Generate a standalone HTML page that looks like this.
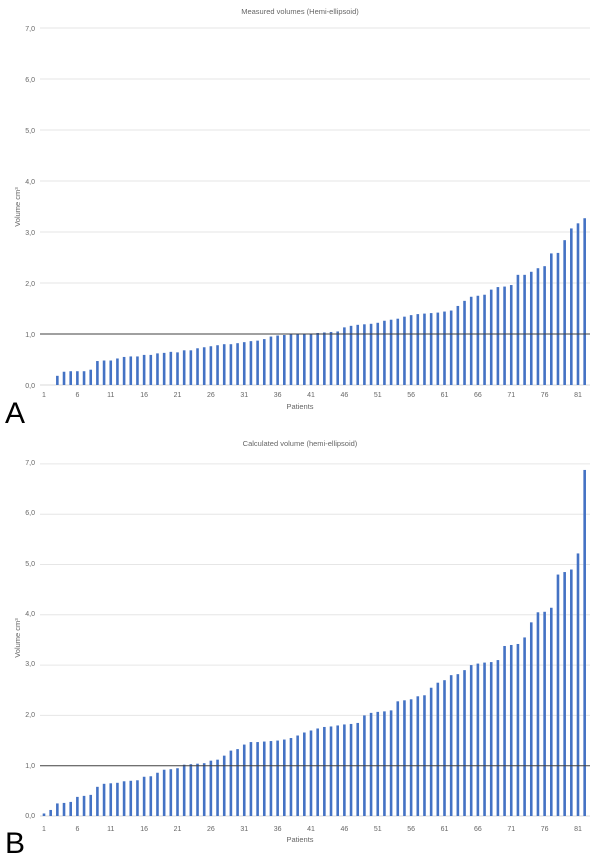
<!DOCTYPE html>
<html><head><meta charset="utf-8"><style>
body{margin:0;background:#fff;width:600px;height:857px;overflow:hidden}
svg{font-family:"Liberation Sans",sans-serif}
</style></head><body>
<svg id="s" width="600" height="857" xmlns="http://www.w3.org/2000/svg">
<g font-size="7.5" fill="#666">
<text x="300" y="14" text-anchor="middle">Measured volumes (Hemi-ellipsoid)</text>
<text x="300" y="446" text-anchor="middle">Calculated volume (hemi-ellipsoid)</text>
<text x="300" y="409" text-anchor="middle">Patients</text>
<text x="300" y="842" text-anchor="middle">Patients</text>
<text transform="translate(20,207) rotate(-90)" text-anchor="middle">Volume cm³</text>
<text transform="translate(20,638) rotate(-90)" text-anchor="middle">Volume cm³</text>
</g>
<g font-size="7" fill="#666" text-anchor="end">
<text x="35" y="31">7,0</text><text x="35" y="82">6,0</text><text x="35" y="133">5,0</text><text x="35" y="184">4,0</text><text x="35" y="235">3,0</text><text x="35" y="286">2,0</text><text x="35" y="337">1,0</text><text x="35" y="388">0,0</text>
<text x="35" y="465">7,0</text><text x="35" y="515">6,0</text><text x="35" y="566">5,0</text><text x="35" y="616">4,0</text><text x="35" y="666">3,0</text><text x="35" y="717">2,0</text><text x="35" y="768">1,0</text><text x="35" y="818">0,0</text>
</g>
<g font-size="7" fill="#666" text-anchor="middle">
<text x="44" y="397">1</text><text x="77.4" y="397">6</text><text x="110.8" y="397">11</text><text x="144.1" y="397">16</text><text x="177.5" y="397">21</text><text x="210.9" y="397">26</text><text x="244.3" y="397">31</text><text x="277.6" y="397">36</text><text x="311" y="397">41</text><text x="344.4" y="397">46</text><text x="377.8" y="397">51</text><text x="411.1" y="397">56</text><text x="444.5" y="397">61</text><text x="477.9" y="397">66</text><text x="511.3" y="397">71</text><text x="544.6" y="397">76</text><text x="578" y="397">81</text>
<text x="44" y="831">1</text><text x="77.4" y="831">6</text><text x="110.8" y="831">11</text><text x="144.1" y="831">16</text><text x="177.5" y="831">21</text><text x="210.9" y="831">26</text><text x="244.3" y="831">31</text><text x="277.6" y="831">36</text><text x="311" y="831">41</text><text x="344.4" y="831">46</text><text x="377.8" y="831">51</text><text x="411.1" y="831">56</text><text x="444.5" y="831">61</text><text x="477.9" y="831">66</text><text x="511.3" y="831">71</text><text x="544.6" y="831">76</text><text x="578" y="831">81</text>
</g>
<text x="5" y="423" font-size="30" fill="#000">A</text>
<text x="5" y="853" font-size="30" fill="#000">B</text>
</svg>
<script>
var s=document.getElementById('s'),NS="http://www.w3.org/2000/svg";
function el(t,a){var e=document.createElementNS(NS,t);for(var k in a)e.setAttribute(k,a[k]);s.appendChild(e);}
var A=[0,0,0.18,0.26,0.27,0.27,0.27,0.3,0.47,0.48,0.48,0.52,0.55,0.56,0.56,0.59,0.59,0.62,0.63,0.65,0.64,0.68,0.68,0.72,0.74,0.76,0.78,0.8,0.8,0.82,0.84,0.86,0.87,0.9,0.95,0.97,0.98,0.99,1.0,1.0,1.01,1.02,1.03,1.04,1.05,1.13,1.16,1.18,1.19,1.2,1.22,1.26,1.28,1.30,1.34,1.37,1.39,1.40,1.41,1.42,1.44,1.46,1.55,1.65,1.73,1.75,1.77,1.87,1.92,1.93,1.96,2.16,2.16,2.22,2.29,2.33,2.58,2.59,2.84,3.07,3.17,3.27];
var B=[0.05,0.12,0.25,0.26,0.28,0.38,0.4,0.42,0.58,0.64,0.65,0.66,0.69,0.7,0.71,0.78,0.79,0.86,0.92,0.93,0.95,1.02,1.03,1.04,1.05,1.1,1.12,1.2,1.3,1.33,1.42,1.47,1.47,1.48,1.49,1.5,1.52,1.55,1.6,1.66,1.7,1.74,1.77,1.78,1.8,1.82,1.83,1.85,2.0,2.05,2.07,2.08,2.1,2.28,2.3,2.32,2.38,2.4,2.55,2.65,2.7,2.8,2.82,2.9,3.0,3.03,3.05,3.06,3.1,3.38,3.4,3.42,3.55,3.85,4.05,4.06,4.14,4.8,4.85,4.9,5.22,6.88];
function chart(d,y0,u){
 for(var i=1;i<=7;i++){ if(i!=1) el('line',{x1:40,x2:590,y1:y0-i*u,y2:y0-i*u,stroke:'#e6e6e6','stroke-width':1}); }
 el('line',{x1:40,x2:590,y1:y0,y2:y0,stroke:'#d9d9d9','stroke-width':1});
 for(var j=0;j<d.length;j++){var x=44+j*6.675,h=d[j]*u; if(h>0) el('rect',{x:x-1.3,y:y0-h,width:2.6,height:h,fill:'#4472c4'});}
 el('line',{x1:40,x2:590,y1:y0-u,y2:y0-u,stroke:'#404040','stroke-width':1});
}
chart(A,385,51);chart(B,816,50.3);
</script>
</body></html>
